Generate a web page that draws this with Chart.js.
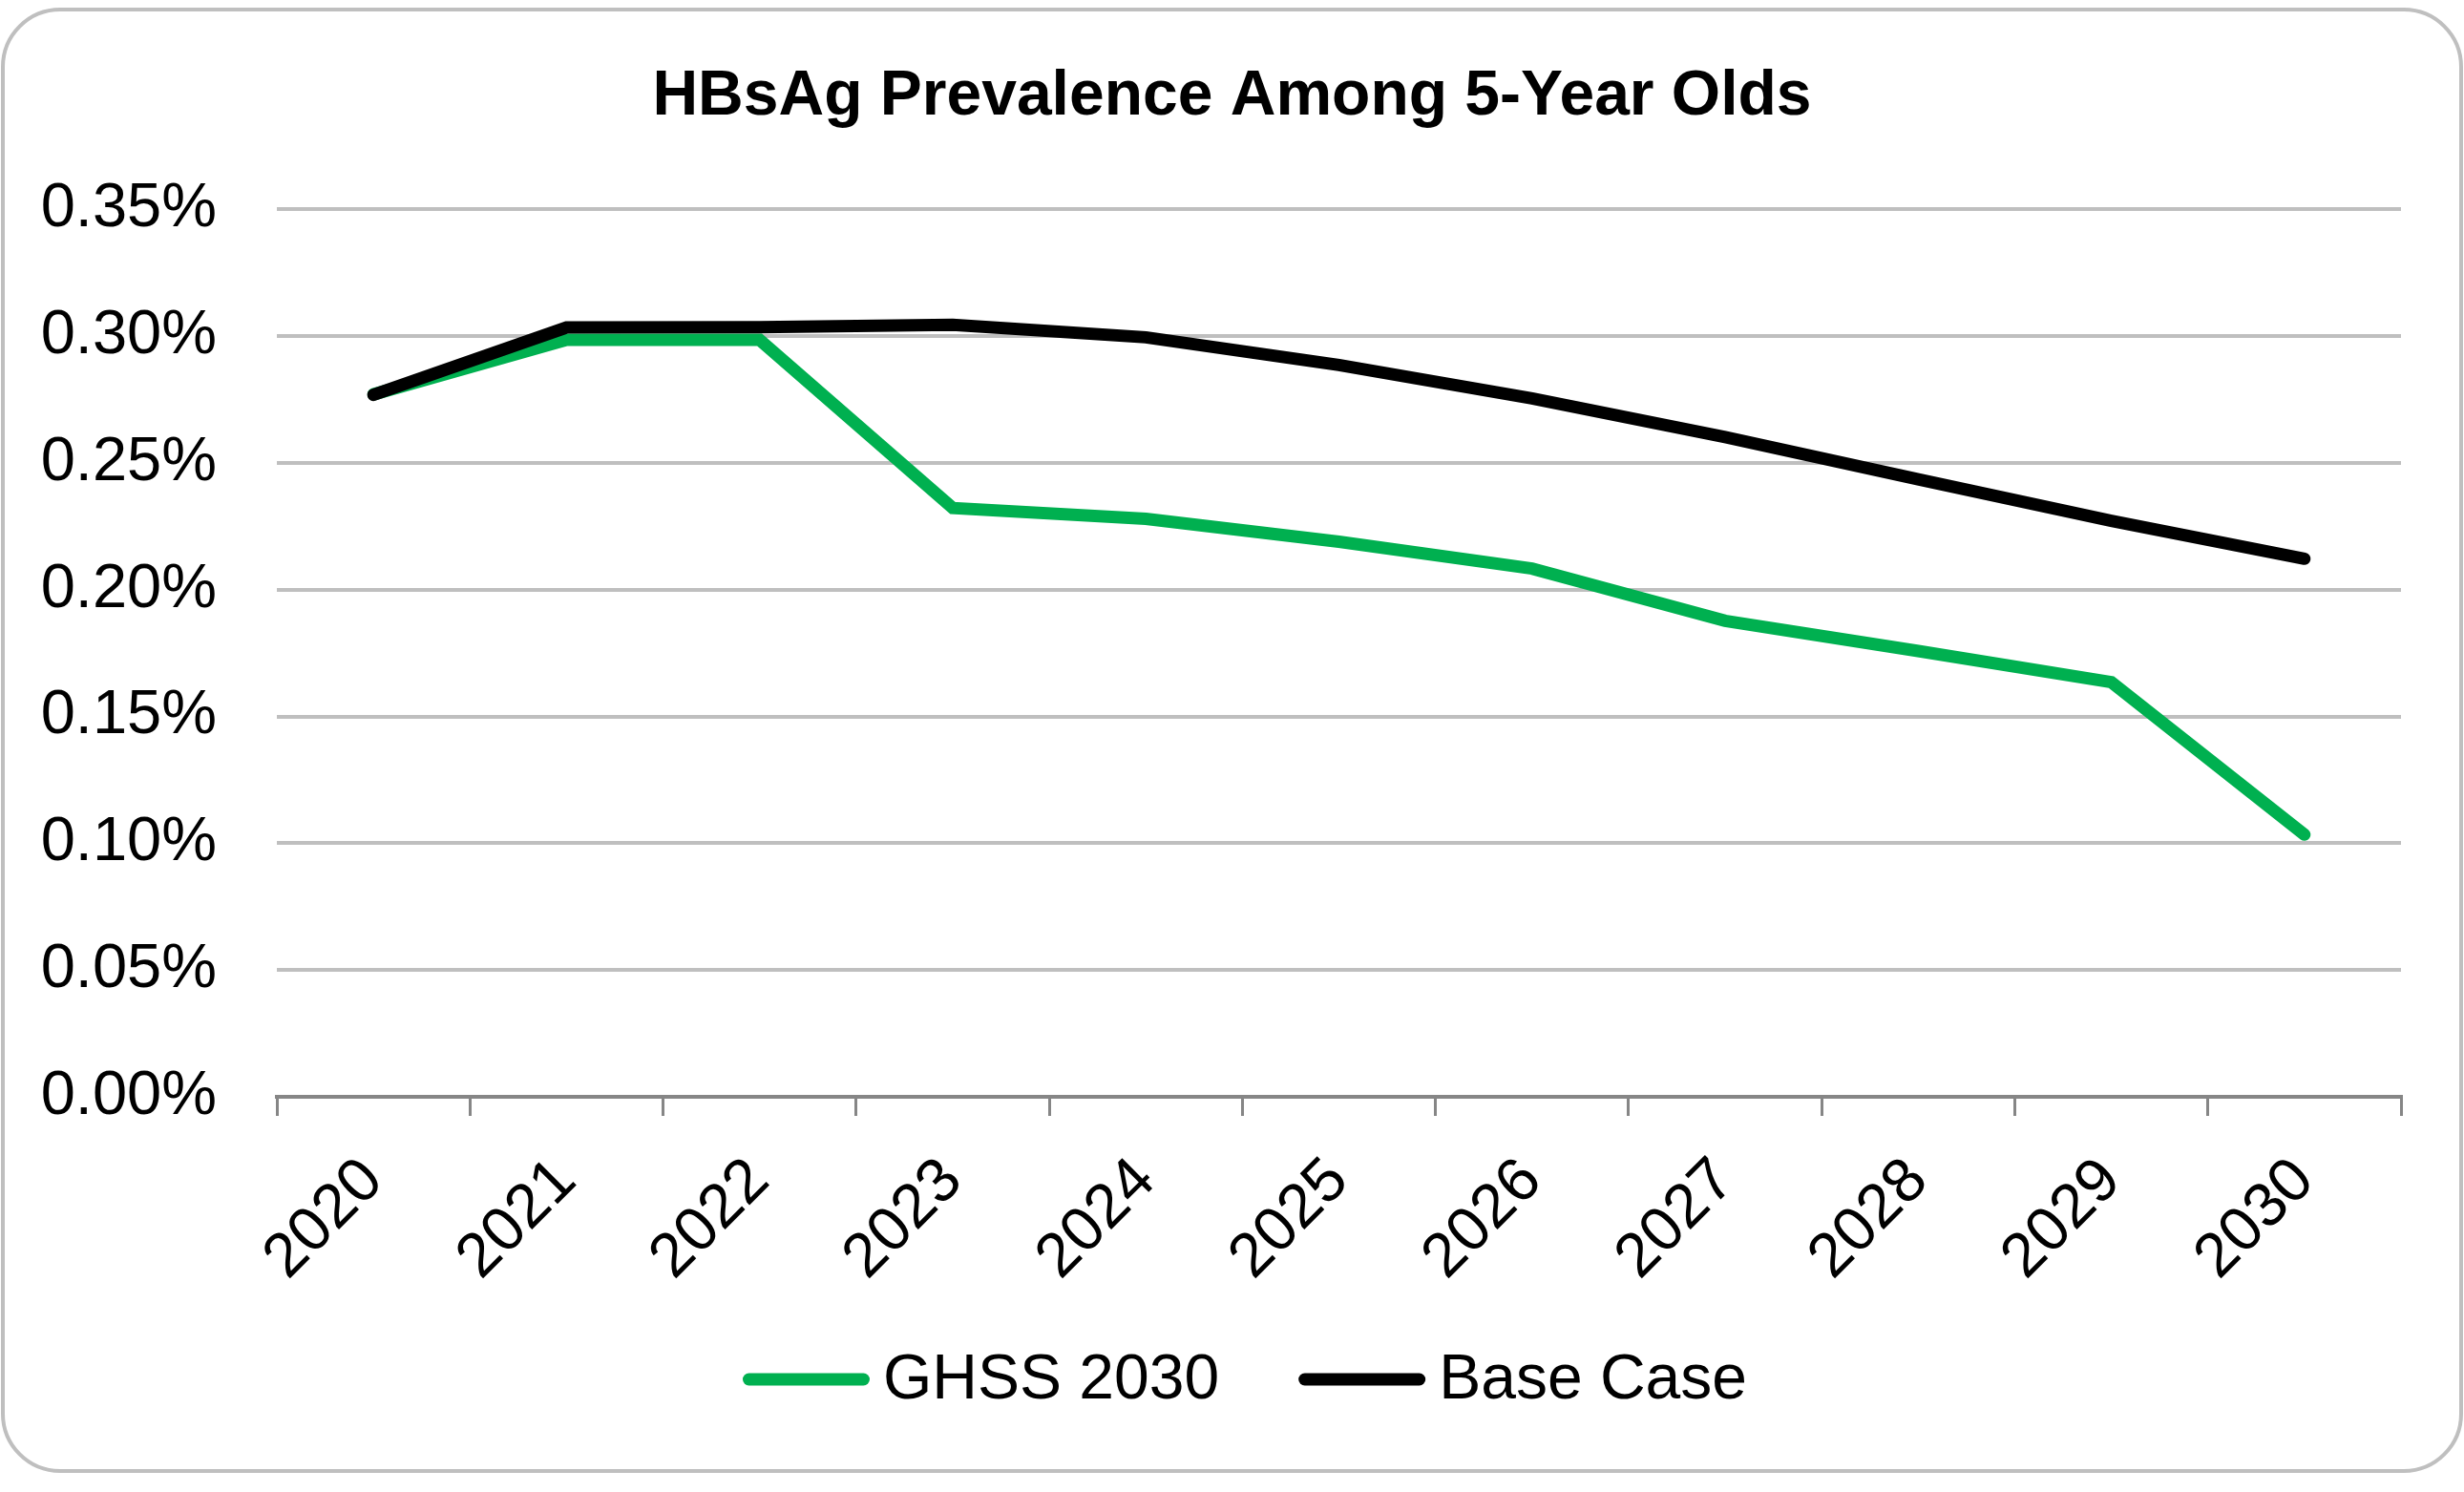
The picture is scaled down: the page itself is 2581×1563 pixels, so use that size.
<!DOCTYPE html>
<html>
<head>
<meta charset="utf-8">
<title>HBsAg Prevalence Among 5-Year Olds</title>
<script src="https://cdn.jsdelivr.net/npm/chart.js@4.4.1/dist/chart.umd.min.js"></script>
<style>
  html, body { margin: 0; padding: 0; background: #ffffff; }
  canvas { display: block; }
</style>
</head>
<body>
<canvas id="chart" width="2581" height="1563"></canvas>
<script>
// Projection years
const years = ['2020', '2021', '2022', '2023', '2024', '2025', '2026', '2027', '2028', '2029', '2030'];

// HBsAg prevalence (%) under the GHSS 2030 scenario
const ghss2030 = [0.2770, 0.2985, 0.2985, 0.2322, 0.2279, 0.2189, 0.2083, 0.1877, 0.1758, 0.1635, 0.1034];

// HBsAg prevalence (%) under the base case
const baseCase = [0.2768, 0.3034, 0.3035, 0.3044, 0.2995, 0.2886, 0.2754, 0.2602, 0.2435, 0.2271, 0.2122];

// Y axis range and step (%)
const yMin = 0;
const yMax = 0.35;
const yStep = 0.05;

const FONT = "'Liberation Sans', Arial, sans-serif";
const LINE_WIDTH = 13;

// Rounded frame around the whole chart
const framePlugin = {
  id: 'frame',
  beforeDraw(chart) {
    const ctx = chart.ctx;
    const x = 3, y = 10, w = 2575, h = 1531, r = 60;
    ctx.save();
    ctx.fillStyle = '#ffffff';
    ctx.fillRect(0, 0, chart.width, chart.height);
    ctx.beginPath();
    ctx.moveTo(x + r, y);
    ctx.lineTo(x + w - r, y);
    ctx.arcTo(x + w, y, x + w, y + r, r);
    ctx.lineTo(x + w, y + h - r);
    ctx.arcTo(x + w, y + h, x + w - r, y + h, r);
    ctx.lineTo(x + r, y + h);
    ctx.arcTo(x, y + h, x, y + h - r, r);
    ctx.lineTo(x, y + r);
    ctx.arcTo(x, y, x + r, y, r);
    ctx.closePath();
    ctx.lineWidth = 4;
    ctx.strokeStyle = '#bfbfbf';
    ctx.stroke();
    ctx.restore();
  }
};

// Series key under the axis: a line sample followed by the series name
const seriesKeyPlugin = {
  id: 'seriesKey',
  afterDraw(chart) {
    const ctx = chart.ctx;
    const sample = 133, gap = 14, itemGap = 83;
    const centerX = 1304, centerY = 1445;
    ctx.save();
    ctx.font = '66px ' + FONT;
    const items = chart.data.datasets.map(ds => ({
      label: ds.label,
      color: ds.borderColor,
      width: ds.borderWidth,
      textW: ctx.measureText(ds.label).width
    }));
    const total = items.reduce((s, it) => s + sample + gap + it.textW, 0) + itemGap * (items.length - 1);
    let x = centerX - total / 2;
    items.forEach(it => {
      ctx.beginPath();
      ctx.lineCap = 'round';
      ctx.lineWidth = it.width;
      ctx.strokeStyle = it.color;
      ctx.moveTo(x + it.width / 2, centerY);
      ctx.lineTo(x + sample - it.width / 2, centerY);
      ctx.stroke();
      ctx.fillStyle = '#000000';
      ctx.textAlign = 'left';
      ctx.textBaseline = 'middle';
      ctx.fillText(it.label, x + sample + gap, centerY + 2);
      x += sample + gap + it.textW + itemGap;
    });
    ctx.restore();
  }
};

new Chart(document.getElementById('chart'), {
  type: 'line',
  data: {
    labels: years,
    datasets: [
      {
        label: 'GHSS 2030',
        data: ghss2030,
        borderColor: '#00b050',
        backgroundColor: '#00b050',
        borderWidth: LINE_WIDTH,
        borderCapStyle: 'round',
        pointRadius: 0,
        tension: 0,
        order: 1
      },
      {
        label: 'Base Case',
        data: baseCase,
        borderColor: '#000000',
        backgroundColor: '#000000',
        borderWidth: LINE_WIDTH,
        borderCapStyle: 'round',
        pointRadius: 0,
        tension: 0,
        order: 0
      }
    ]
  },
  options: {
    responsive: false,
    devicePixelRatio: 1,
    animation: false,
    layout: { padding: { top: 0, left: 0, right: 0, bottom: 214 } },
    plugins: {
      title: {
        display: true,
        text: 'HBsAg Prevalence Among 5-Year Olds',
        color: '#000000',
        font: { family: FONT, size: 66, weight: 'bold' },
        padding: { top: 62, bottom: 78 }
      },
      legend: { display: false },
      tooltip: { enabled: false }
    },
    scales: {
      x: {
        offset: true,
        grid: {
          offset: true,
          drawOnChartArea: false,
          drawTicks: true,
          tickLength: 20,
          color: '#868686',
          lineWidth: 3
        },
        border: { display: true, color: '#868686', width: 4 },
        ticks: {
          color: '#000000',
          font: { family: FONT, size: 65 },
          minRotation: 45,
          maxRotation: 45,
          autoSkip: false,
          padding: 30
        },
        afterFit(scale) { scale.height = 200; }
      },
      y: {
        min: yMin,
        max: yMax,
        grid: {
          color: '#bfbfbf',
          lineWidth: 4,
          drawTicks: false
        },
        border: { display: false },
        ticks: {
          stepSize: yStep,
          color: '#000000',
          font: { family: FONT, size: 65 },
          padding: 63,
          callback: (v) => v.toFixed(2) + '%'
        },
        afterFit(scale) { scale.width = 290; }
      },
      // empty margin on the right of the plot
      yRight: {
        type: 'linear',
        position: 'right',
        grid: { display: false },
        border: { display: false },
        ticks: { display: false },
        afterFit(scale) { scale.width = 66; }
      }
    }
  },
  plugins: [framePlugin, seriesKeyPlugin]
});
</script>
</body>
</html>
